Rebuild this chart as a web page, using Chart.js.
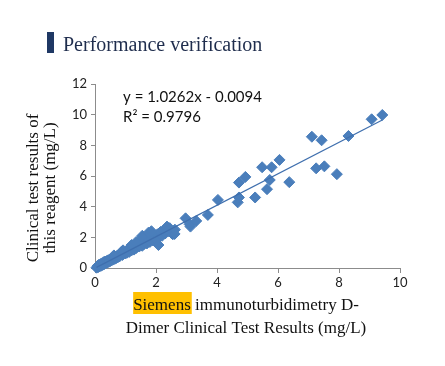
<!DOCTYPE html>
<html>
<head>
<meta charset="utf-8">
<script src="https://cdn.jsdelivr.net/npm/chart.js@4/dist/chart.umd.min.js"></script>
<style>
  html, body { margin: 0; padding: 0; background: #ffffff; }
  #c { display: block; }
</style>
</head>
<body>
<canvas id="c" width="445" height="366"></canvas>
<script>
// ---- Data ----
const siemensX = [
  0.05, 0.08, 0.10, 0.12, 0.15, 0.18, 0.20, 0.22, 0.25, 0.28, 0.30, 0.33, 0.35, 0.38, 0.40,
  0.43, 0.45, 0.48, 0.50, 0.53, 0.55, 0.58, 0.60, 0.63, 0.65, 0.68, 0.70, 0.73, 0.75, 0.78,
  0.80, 0.85, 0.88, 0.90, 0.95, 1.00, 1.02, 1.05, 1.10, 1.12, 1.15, 1.20, 1.25, 1.28, 1.30,
  1.35, 1.40, 1.42, 1.45, 1.50, 1.55, 1.58, 1.60, 1.63, 1.65, 1.70, 1.75, 1.80, 1.85, 1.90,
  1.95, 2.00, 2.05, 2.08, 2.10, 2.15, 2.20, 2.25, 2.30, 2.36, 2.40, 2.45, 2.50, 2.55, 2.61,
  2.62, 2.97, 3.13, 3.10, 3.32, 3.70, 4.03, 4.68, 4.72, 4.72, 4.93, 5.25, 5.48, 5.79, 6.05,
  5.73, 5.64, 6.37, 7.11, 7.43, 8.31, 7.25, 7.52, 7.93, 9.07, 9.42,
  1.20, 1.35, 1.55, 1.75, 1.85, 0.92, 0.62
];
const reagentY = [
  0.02, 0.12, 0.05, 0.20, 0.10, 0.25, 0.15, 0.30, 0.20, 0.38, 0.25, 0.42, 0.30, 0.45, 0.35,
  0.50, 0.40, 0.55, 0.45, 0.62, 0.50, 0.70, 0.55, 0.75, 0.60, 0.72, 0.65, 0.80, 0.70, 0.85,
  0.75, 0.95, 1.08, 0.85, 1.00, 0.95, 1.10, 1.00, 1.20, 1.05, 1.30, 1.15, 1.35, 1.20, 1.45,
  1.30, 1.55, 1.70, 1.40, 1.60, 1.45, 1.75, 1.55, 2.00, 1.70, 1.60, 1.85, 1.70, 1.95, 1.80,
  2.05, 1.90, 2.20, 1.50, 2.00, 2.35, 2.10, 2.45, 2.25, 2.70, 2.40, 2.60, 2.30, 2.20, 2.22,
  2.50, 3.24, 2.70, 2.85, 3.07, 3.46, 4.44, 4.28, 4.60, 5.57, 5.94, 4.60, 6.57, 6.57, 7.05,
  5.74, 5.14, 5.60, 8.56, 8.33, 8.61, 6.50, 6.63, 6.12, 9.70, 9.98,
  1.50, 1.70, 2.10, 2.30, 2.40, 1.15, 0.82
];
const trendSlope = 1.0262;
const trendIntercept = -0.0094;
const trendRange = [0.05, 9.42];
const xTicks = [0, 2, 4, 6, 8, 10];
const yTicks = [0, 2, 4, 6, 8, 10, 12];
const chartTitle = 'Performance verification';
const yTitleLines = ['Clinical test results of', 'this reagent (mg/L)'];
const xTitleHighlight = 'Siemens';
const xTitleLine1Rest = ' immunoturbidimetry D-';
const xTitleLine2 = 'Dimer Clinical Test Results (mg/L)';
const eqLine1 = 'y = 1.0262x - 0.0094';
const eqLine2 = 'R\u00B2 = 0.9796';

const points = siemensX.map((x, i) => ({ x: x, y: reagentY[i] }));
const trendPts = trendRange.map(x => ({ x: x, y: trendSlope * x + trendIntercept }));

const serif = '"Liberation Serif", "Times New Roman", serif';
const sans = 'Lato, "Open Sans", sans-serif';

const decorPlugin = {
  id: 'decor',
  afterDraw(chart) {
    const ctx = chart.ctx;
    const xs = chart.scales.x, ys = chart.scales.y;
    ctx.save();
    // Title bar + title
    ctx.fillStyle = '#1F3864';
    ctx.fillRect(47, 32, 7, 21);
    ctx.fillStyle = '#1F2D4D';
    ctx.font = '20px ' + serif;
    ctx.textBaseline = 'alphabetic';
    ctx.textAlign = 'left';
    ctx.fillText(chartTitle, 63, 51);

    // Equation
    ctx.fillStyle = '#111111';
    ctx.font = '15px ' + sans;
    const ex = xs.getPixelForValue(0.92);
    ctx.fillText(eqLine1, ex, ys.getPixelForValue(10.8));
    ctx.fillText(eqLine2, ex, ys.getPixelForValue(9.55));

    // Y axis title (rotated)
    ctx.font = '17px ' + serif;
    ctx.textAlign = 'center';
    ctx.save();
    ctx.translate(0, 188);
    ctx.rotate(-Math.PI / 2);
    ctx.fillText(yTitleLines[0], 0, 38);
    ctx.fillText(yTitleLines[1], 0, 55);
    ctx.restore();

    // X axis title with highlighted first word
    ctx.textAlign = 'left';
    const cx = 246;
    const wHi = ctx.measureText(xTitleHighlight).width;
    const wRest = ctx.measureText(xTitleLine1Rest).width;
    const x0 = cx - (wHi + wRest) / 2;
    ctx.fillStyle = '#FFC000';
    ctx.fillRect(x0, 292, wHi + 1, 22);
    ctx.fillStyle = '#111111';
    ctx.fillText(xTitleHighlight, x0, 310);
    ctx.fillText(xTitleLine1Rest, x0 + wHi, 310);
    ctx.textAlign = 'center';
    ctx.fillText(xTitleLine2, cx, 333);
    ctx.restore();
  }
};

new Chart(document.getElementById('c'), {
  type: 'scatter',
  data: {
    datasets: [
      {
        type: 'scatter',
        data: points,
        pointStyle: 'rectRot',
        pointRadius: 5.5,
        pointBorderWidth: 1,
        backgroundColor: '#4A7EBB',
        borderColor: '#4A7EBB',
        clip: false,
        order: 2
      },
      {
        type: 'line',
        data: trendPts,
        borderColor: '#3F6FAE',
        borderWidth: 1.2,
        pointRadius: 0,
        fill: false,
        order: 1
      }
    ]
  },
  options: {
    responsive: false,
    animation: false,
    devicePixelRatio: 1,
    layout: { padding: { left: 0, top: 84, right: 45, bottom: 78 } },
    plugins: { legend: { display: false }, tooltip: { enabled: false } },
    scales: {
      x: {
        type: 'linear', min: 0, max: 10,
        afterBuildTicks(s) { s.ticks = xTicks.map(v => ({ value: v })); },
        afterFit(s) { s.height = 20; },
        ticks: { color: '#222222', font: { family: sans, size: 13 }, padding: 2, maxRotation: 0 },
        grid: { drawOnChartArea: false, tickLength: 5, color: '#8C8C8C' },
        border: { color: '#8C8C8C' }
      },
      y: {
        type: 'linear', min: 0, max: 12,
        afterBuildTicks(s) { s.ticks = yTicks.map(v => ({ value: v })); },
        afterFit(s) { s.width = 95; },
        ticks: { color: '#222222', font: { family: sans, size: 13 }, padding: 4 },
        grid: { drawOnChartArea: false, tickLength: 4, color: '#8C8C8C' },
        border: { color: '#8C8C8C' }
      }
    }
  },
  plugins: [decorPlugin]
});
</script>
</body>
</html>
